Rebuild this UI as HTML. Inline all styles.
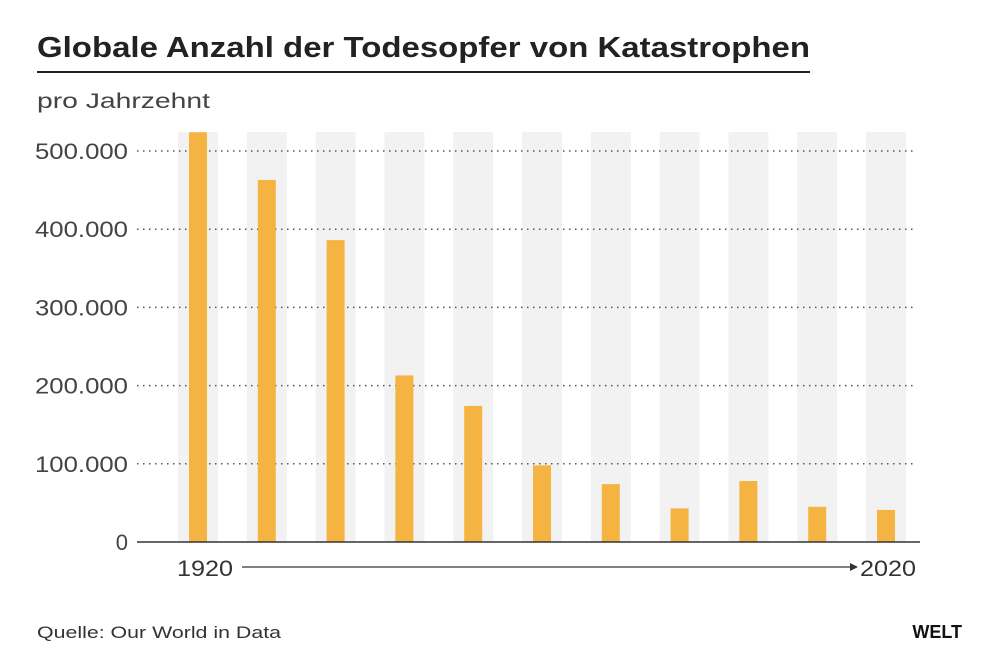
<!DOCTYPE html>
<html><head><meta charset="utf-8"><style>
body{margin:0;background:#fff;font-family:"Liberation Sans",sans-serif;}
#c{position:relative;width:1000px;height:666px;overflow:hidden;}
</style></head><body>
<div id="c">
<svg width="1000" height="666" xmlns="http://www.w3.org/2000/svg" id="svg">
<text x="37" y="57" font-size="29" font-weight="bold" fill="#222" textLength="773" lengthAdjust="spacingAndGlyphs">Globale Anzahl der Todesopfer von Katastrophen</text>
<line x1="37" y1="72" x2="810" y2="72" stroke="#222" stroke-width="2"/>
<text x="37" y="108" font-size="21" fill="#444" textLength="173" lengthAdjust="spacingAndGlyphs">pro Jahrzehnt</text>
<g id="bands"></g><g id="grid"></g><g id="bars"></g>
<line x1="137" y1="542" x2="920" y2="542" stroke="#333" stroke-width="1.5"/>
<text x="177" y="576" font-size="22" fill="#333" textLength="56" lengthAdjust="spacingAndGlyphs">1920</text>
<line x1="242" y1="567" x2="850" y2="567" stroke="#333" stroke-width="1.2"/>
<polygon points="850,563 858,567 850,571" fill="#333"/>
<text x="860" y="576" font-size="22" fill="#333" textLength="56" lengthAdjust="spacingAndGlyphs">2020</text>
<text x="37" y="638" font-size="17" fill="#333" textLength="244" lengthAdjust="spacingAndGlyphs">Quelle:  Our World in Data</text>
<text x="962" y="638" font-size="18" font-weight="bold" fill="#111" text-anchor="end">WELT</text>
</svg></div>
<script>
const categories=["1920s","1930s","1940s","1950s","1960s","1970s","1980s","1990s","2000s","2010s","2020s"];
const deaths=[524000,463000,386000,213000,174000,98000,74000,43000,78000,45000,41000];
const tickValues=[0,100000,200000,300000,400000,500000];
const tickLabels=["0","100.000","200.000","300.000","400.000","500.000"];
const NS="http://www.w3.org/2000/svg";
const y=v=>542-v*391/500000;
const x=i=>198+i*68.8;
function mk(t,a,p){const e=document.createElementNS(NS,t);for(const k in a)e.setAttribute(k,a[k]);p.appendChild(e);return e;}
const bands=document.getElementById('bands'),grid=document.getElementById('grid'),bars=document.getElementById('bars');
categories.forEach((c,i)=>{
 const b=mk('rect',{x:x(i)-20,y:132,width:40,height:410,fill:'#f2f2f2'},bands);
 
 
 const r=mk('rect',{x:x(i)-9,y:y(deaths[i]),width:18,height:542-y(deaths[i]),fill:'#f5b342'},bars);
 
 
});
tickValues.forEach((v,i)=>{
 if(v>0){const l=mk('line',{x1:137,x2:916,y1:y(v),y2:y(v),stroke:'#555','stroke-width':1.5,'stroke-dasharray':'1.5 4.5'},grid);
 
 }
 const a={x:128,y:y(v)+8,'font-size':22,fill:'#444','text-anchor':'end'};
 if(v>0){a.textLength=93;a.lengthAdjust='spacingAndGlyphs';}
 const t=mk('text',a,grid);
 t.textContent=tickLabels[i];
 
 
});
</script>
</body></html>
